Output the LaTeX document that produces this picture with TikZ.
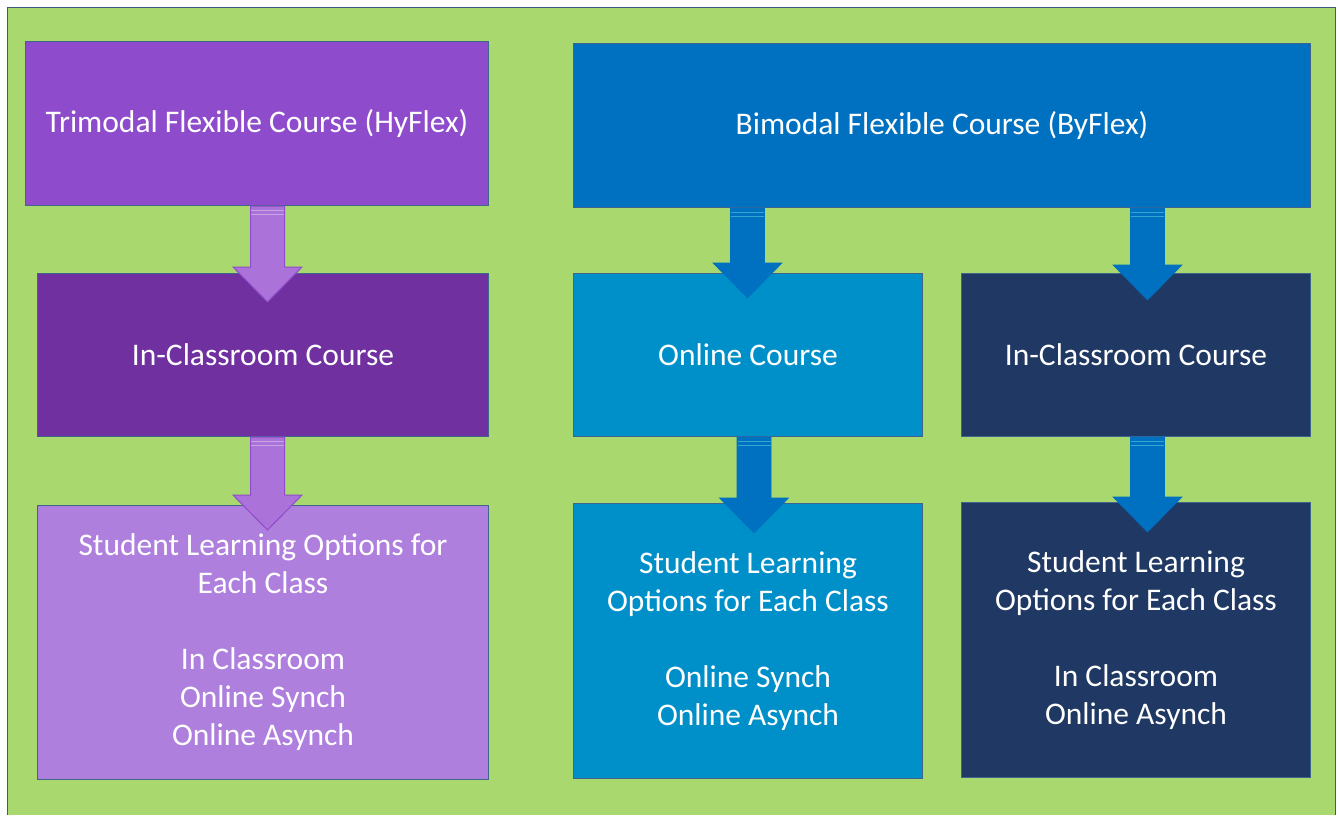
\documentclass[tikz,border=0pt]{standalone}
\usepackage{fontspec}
\setmainfont{Carlito}
\usepackage{tikz}
\usetikzlibrary{calc}
\definecolor{bg}{HTML}{A9D86E}
\definecolor{frame}{HTML}{3A5A85}
\definecolor{edge}{HTML}{41648F}
\definecolor{purp}{HTML}{8E4BCB}
\definecolor{purpdk}{HTML}{7030A0}
\definecolor{purplt}{HTML}{AE7FDD}
\definecolor{purparrow}{HTML}{AB72DA}
\definecolor{blue}{HTML}{0070C0}
\definecolor{sky}{HTML}{0090C9}
\definecolor{navy}{HTML}{1F3864}
\tikzset{
  box/.style={draw=edge, line width=1pt, anchor=north west, text=white,
    align=center, inner sep=0pt, font=\fontsize{31.5}{38}\selectfont},
  flowp/.style={fill=purparrow, draw=purp, line width=1pt, line join=miter},
  flowb/.style={fill=blue, draw=blue, line width=0.6pt, line join=miter},
  stripep/.style={draw=purplt!70!white, line width=1pt},
  stripeb/.style={draw=sky!80!white, line width=0.8pt},
}
% block arrow pointing down: start, tip, style, stripe style
\newcommand{\blockdown}[4]{%
  \draw[#3] ($(#1)+(-17,0)$) -- ($(#2)+(-17,-35)$) -- ($(#2)+(-34.5,-35)$)
    -- (#2) -- ($(#2)+(34.5,-35)$) -- ($(#2)+(17,-35)$) -- ($(#1)+(17,0)$) -- cycle;
  \draw[#4] ($(#1)+(-16.5,4)$) -- ($(#1)+(16.5,4)$);
  \draw[#4] ($(#1)+(-16.5,8)$) -- ($(#1)+(16.5,8)$);
}

\begin{document}
\begin{tikzpicture}[x=1pt, y=-1pt]
  \useasboundingbox (0,0) rectangle (1338,815);
  \fill[white] (0,0) rectangle (1338,815);
  \fill[bg] (7.5,7.5) rectangle (1335.5,815);
  \draw[frame, line width=1.2pt] (7.5,815) -- (7.5,7.5) -- (1335.5,7.5) -- (1335.5,815);

  % top row
  \node[box, fill=purp, minimum width=463pt, minimum height=164pt] (tri) at (25,41)
    {Trimodal Flexible Course (HyFlex)};
  \node[box, fill=blue, minimum width=737pt, minimum height=164pt] (bi) at (573,43)
    {Bimodal Flexible Course (ByFlex)};

  % middle row
  \node[box, fill=purpdk, minimum width=451pt, minimum height=163pt] (inL) at (37,273)
    {In-Classroom Course};
  \node[box, fill=sky, minimum width=349pt, minimum height=163pt] (onl) at (573,273)
    {Online Course};
  \node[box, fill=navy, minimum width=349pt, minimum height=163pt] (inR) at (961,273)
    {In-Classroom Course};

  % bottom row
  \node[box, fill=purplt, minimum width=451pt, minimum height=274pt] (stuL) at (37,505)
    {Student Learning Options for\\Each Class\\[38pt]In Classroom\\Online Synch\\Online Asynch};
  \node[box, fill=sky, minimum width=349pt, minimum height=275pt] (stuM) at (573,503)
    {Student Learning\\Options for Each Class\\[38pt]Online Synch\\Online Asynch};
  \node[box, fill=navy, minimum width=349pt, minimum height=275pt] (stuR) at (961,502)
    {Student Learning\\Options for Each Class\\[38pt]In Classroom\\Online Asynch};

  % arrows
  \coordinate (p1s) at ([xshift=4.5pt]tri.south -| inL.north);
  \coordinate (p1e) at ([xshift=4.5pt,yshift=-29pt]inL.north);
  \coordinate (p2s) at ([xshift=4.5pt]inL.south);
  \coordinate (p2e) at ([xshift=4.5pt,yshift=-25pt]stuL.north);
  \coordinate (b1s) at ([xshift=-0.5pt]bi.south -| onl.north);
  \coordinate (b1e) at ([xshift=-0.5pt,yshift=-25pt]onl.north);
  \coordinate (b2s) at ([xshift=11.5pt]bi.south -| inR.north);
  \coordinate (b2e) at ([xshift=11.5pt,yshift=-27pt]inR.north);
  \coordinate (b3s) at ([xshift=6pt]onl.south);
  \coordinate (b3e) at ([xshift=6pt,yshift=-30pt]stuM.north);
  \coordinate (b4s) at ([xshift=11.5pt]inR.south);
  \coordinate (b4e) at ([xshift=11.5pt,yshift=-30pt]stuR.north);

  \blockdown{p1s}{p1e}{flowp}{stripep}
  \blockdown{p2s}{p2e}{flowp}{stripep}
  \blockdown{b1s}{b1e}{flowb}{stripeb}
  \blockdown{b2s}{b2e}{flowb}{stripeb}
  \blockdown{b3s}{b3e}{flowb}{stripeb}
  \blockdown{b4s}{b4e}{flowb}{stripeb}
\end{tikzpicture}
\end{document}
